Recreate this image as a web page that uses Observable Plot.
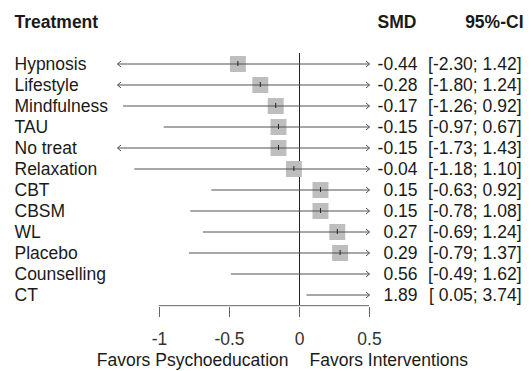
<!DOCTYPE html>
<html><head><meta charset="utf-8">
<script src="https://cdn.jsdelivr.net/npm/d3@7"></script>
<script src="https://cdn.jsdelivr.net/npm/@observablehq/plot@0.6"></script>
<style>body{margin:0;background:#fff}</style>
</head><body><div id="chart"></div>
<script>
const treatments = ["Hypnosis","Lifestyle","Mindfulness","TAU","No treat","Relaxation","CBT","CBSM","WL","Placebo","Counselling","CT"];
const smd   = [-0.44,-0.28,-0.17,-0.15,-0.15,-0.04,0.15,0.15,0.27,0.29,0.56,1.89];
const lower = [-2.30,-1.80,-1.26,-0.97,-1.73,-1.18,-0.63,-0.78,-0.69,-0.79,-0.49,0.05];
const upper = [1.42,1.24,0.92,0.67,1.43,1.10,0.92,1.08,1.24,1.37,1.62,3.74];
const xTicks = [-1,-0.5,0,0.5];
const xLimits = [-1.3,0.5];
const headers = ["Treatment","SMD","95%-CI"];
const sideLabels = ["Favors Psychoeducation","Favors Interventions"];

const W = 531, H = 371, mT = 8, mB = 64, mL = 117, mR = 162;
const FS = 17.5;
const txt = "#1a1a1a";
const fmt = v => v.toFixed(2);
const loW = Math.max(...lower.map(v => fmt(v).length));
const hiW = Math.max(...upper.map(v => fmt(v).length));
const rows = treatments.map((name, i) => ({
  name, est: smd[i], lo: lower[i], hi: upper[i],
  smdText: fmt(smd[i]),
  ciText: `[${fmt(lower[i]).padStart(loW, " ")}; ${fmt(upper[i]).padStart(hiW, " ")}]`
}));
const [xmin, xmax] = xLimits;
const inRange = rows.filter(d => d.est >= xmin && d.est <= xmax);
const yDomain = ["__head", "__gap", ...treatments];
const bw = (H - mT - mB) / yDomain.length;

const chevron = dir => ({
  draw(ctx, size) {
    const r = Math.sqrt(size / Math.PI);
    ctx.moveTo(-dir * r, -r * 0.85);
    ctx.lineTo(0, 0);
    ctx.lineTo(-dir * r, r * 0.85);
  }
});

const marks = [];
marks.push(Plot.ruleX([0], {y1: () => treatments[0], y2: () => treatments[treatments.length-1], stroke: "#222"}));
marks.push(Plot.dot(inRange, {x: "est", y: "name", symbol: "square", r: 9, fill: "#bebebe"}));
marks.push(Plot.link(rows, {x1: "lo", x2: "hi", y1: "name", y2: "name", stroke: "#505050", strokeWidth: 1}));
marks.push(Plot.dot(rows.filter(d => d.hi > xmax), {x: "hi", y: "name", symbol: chevron(1), r: 3.5, fill: "none", stroke: "#505050", strokeWidth: 1}));
marks.push(Plot.dot(rows.filter(d => d.lo < xmin), {x: "lo", y: "name", symbol: chevron(-1), r: 3.5, fill: "none", stroke: "#505050", strokeWidth: 1}));
marks.push(Plot.tickX(inRange, {x: "est", y: "name", stroke: "#222", insetTop: 8, insetBottom: 8}));
marks.push(Plot.ruleY([0], {x1: () => xTicks[0], x2: () => xTicks[xTicks.length-1], y: () => treatments[treatments.length-1], dy: bw/2, stroke: "#666"}));
marks.push(Plot.axisX({ticks: xTicks, tickSize: 10, tickPadding: 15.5, stroke: "#666", fill: "#333", fontSize: FS, tickFormat: d => String(d)}));
// row labels and value columns
marks.push(Plot.text(rows, {y: "name", text: "name", frameAnchor: "left", textAnchor: "start", dx: 14 - mL, fill: txt, fontSize: FS}));
marks.push(Plot.text(rows, {y: "name", text: "smdText", frameAnchor: "right", textAnchor: "end", dx: 48, fill: txt, fontSize: FS}));
marks.push(Plot.text(rows, {y: "name", text: "ciText", frameAnchor: "right", textAnchor: "end", dx: 152, fill: txt, fontSize: FS}));
// headers
marks.push(Plot.text([headers[0]], {y: () => "__head", text: d => d, frameAnchor: "left", textAnchor: "start", dx: 14 - mL, fontWeight: "bold", fill: txt, fontSize: FS}));
marks.push(Plot.text([headers[1]], {y: () => "__head", text: d => d, frameAnchor: "right", textAnchor: "end", dx: 47, fontWeight: "bold", fill: txt, fontSize: FS}));
marks.push(Plot.text([headers[2]], {y: () => "__head", text: d => d, frameAnchor: "right", textAnchor: "end", dx: 154, fontWeight: "bold", fill: txt, fontSize: FS}));
// side labels
marks.push(Plot.text([sideLabels[0]], {x: () => 0, text: d => d, frameAnchor: "bottom", lineAnchor: "middle", textAnchor: "end", dx: -11, dy: 53, fill: txt, fontSize: FS}));
marks.push(Plot.text([sideLabels[1]], {x: () => 0, text: d => d, frameAnchor: "bottom", lineAnchor: "middle", textAnchor: "start", dx: 10, dy: 53, fill: txt, fontSize: FS}));

const chart = Plot.plot({
  width: W, height: H,
  marginTop: mT, marginBottom: mB, marginLeft: mL, marginRight: mR,
  style: {fontFamily: "'Liberation Sans', Arial, sans-serif", fontSize: FS + "px", background: "#fff"},
  x: {domain: xLimits, clamp: true},
  y: {type: "band", domain: yDomain, padding: 0, axis: null},
  marks
});
document.getElementById("chart").appendChild(chart);
</script>
</body></html>
